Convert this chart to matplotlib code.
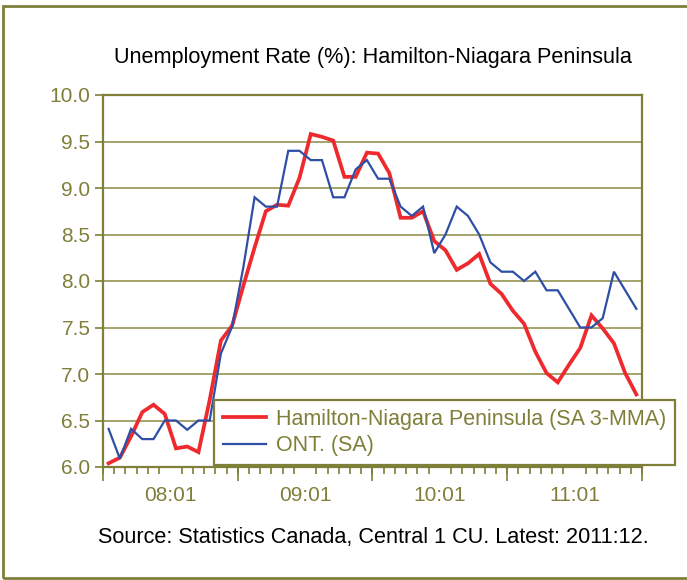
import matplotlib
matplotlib.use("Agg")
import matplotlib.pyplot as plt
import matplotlib.patches as mpatches
import numpy as np

plt.rcParams['font.family'] = ['Liberation Sans', 'DejaVu Sans']

# monthly, 2008:01 .. 2011:12
hamilton = [6.04, 6.10, 6.33, 6.59, 6.67, 6.57, 6.20, 6.22, 6.16, 6.72,
            7.36, 7.52, 7.95, 8.36, 8.75, 8.82, 8.81, 9.11, 9.58, 9.55,
            9.51, 9.12, 9.12, 9.38, 9.37, 9.16, 8.68, 8.68, 8.75, 8.43,
            8.33, 8.12, 8.19, 8.29, 7.97, 7.86, 7.68, 7.54, 7.24, 7.01,
            6.91, 7.10, 7.28, 7.63, 7.49, 7.33, 7.01, 6.78]
ontario = [6.41, 6.09, 6.41, 6.30, 6.30, 6.50, 6.50, 6.40, 6.50, 6.50,
           7.22, 7.51, 8.15, 8.90, 8.80, 8.80, 9.40, 9.40, 9.30, 9.30,
           8.90, 8.90, 9.20, 9.30, 9.10, 9.10, 8.80, 8.70, 8.80, 8.30,
           8.50, 8.80, 8.70, 8.50, 8.20, 8.10, 8.10, 8.00, 8.10, 7.90,
           7.90, 7.70, 7.50, 7.50, 7.60, 8.10, 7.90, 7.70]
year_labels = ['08:01', '09:01', '10:01', '11:01']
y_ticks = [6.0, 6.5, 7.0, 7.5, 8.0, 8.5, 9.0, 9.5, 10.0]

olive = '#7f7f3a'
grid_c = '#9c9c5e'
red = '#ee2a2e'
blue = '#2f4ea6'

fig = plt.figure(figsize=(6.87, 5.8), dpi=100)

# outer frame
fig.patches.append(mpatches.Rectangle((3/687, 2/580), 1.2, 1 - 8/580,
                                      transform=fig.transFigure, fill=False,
                                      edgecolor=olive, linewidth=2))

ax = fig.add_axes([103/687, 1 - 467/580, 539/687, 372/580])
months = np.arange(len(hamilton))
ax.plot(months, hamilton, color=red, lw=2.7, solid_joinstyle='miter',
        label='Hamilton-Niagara Peninsula (SA 3-MMA)', zorder=3)
ax.plot(months, ontario, color=blue, lw=1.6, solid_joinstyle='miter',
        label='ONT. (SA)', zorder=4)

ax.set_xlim(-0.5, len(hamilton) - 0.5)
ax.set_ylim(6.0, 10.0)
ax.set_yticks(y_ticks)
ax.set_yticklabels([f'{v:.1f}' for v in y_ticks])
ax.grid(axis='y', color=grid_c, lw=1.3)
ax.set_axisbelow(True)

for s in ax.spines.values():
    s.set_color(olive)
    s.set_linewidth(1.6)

ax.tick_params(axis='y', colors=olive, labelcolor=olive, length=6, width=1.2,
               labelsize=15, pad=3)
# year labels centred in each year block
ax.set_xticks([5.5 + 12 * k for k in range(len(year_labels))])
ax.set_xticklabels(year_labels)
ax.set_xticks(np.arange(-0.5, len(hamilton), 1), minor=True)
ax.tick_params(axis='x', which='major', length=0, labelcolor=olive,
               labelsize=15, pad=14)
ax.tick_params(axis='x', which='minor', length=5, width=1.2, color=olive)
sec = ax.secondary_xaxis('bottom')
sec.set_xticks([-0.5 + 12 * k for k in range(len(year_labels) + 1)])
sec.set_xticklabels([])
sec.tick_params(length=10, width=1.2, color=olive)
sec.spines['bottom'].set_visible(False)

leg = ax.legend(loc='lower left', bbox_to_anchor=(214/687, 1 - 465/580),
                bbox_transform=fig.transFigure, fontsize=15.5, frameon=True,
                fancybox=False, edgecolor=olive, framealpha=1,
                handlelength=2.0, handletextpad=0.5, labelspacing=0.25,
                borderpad=0.4, borderaxespad=0)
leg.get_frame().set_linewidth(1.6)
for t in leg.get_texts():
    t.set_color(olive)

fig.text(373/687, 1 - 57/580, 'Unemployment Rate (%): Hamilton-Niagara Peninsula',
         ha='center', va='center', fontsize=15.6, color='black')
fig.text(373/687, 1 - 538/580,
         'Source: Statistics Canada, Central 1 CU. Latest: 2011:12.',
         ha='center', va='center', fontsize=15.6, color='black')

fig.savefig('out.png', dpi=100)
